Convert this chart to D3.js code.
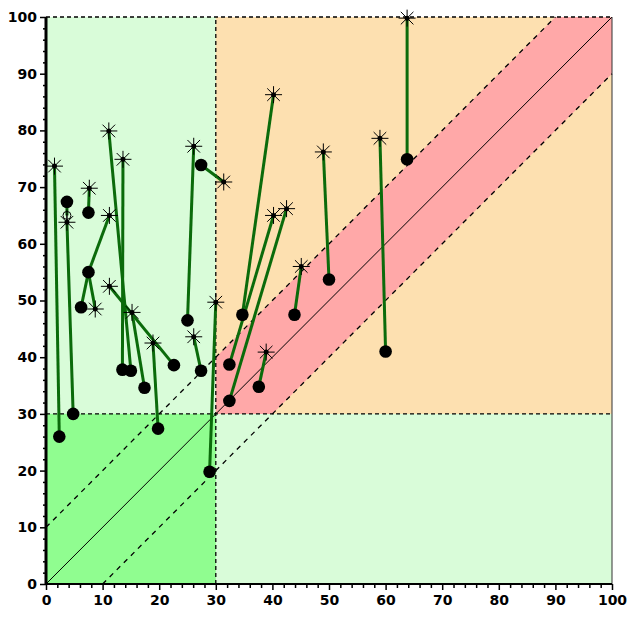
<!DOCTYPE html>
<html>
<head>
<meta charset="utf-8">
<script src="https://cdn.jsdelivr.net/npm/d3@7"></script>
<style>
  html, body { margin: 0; padding: 0; background: #ffffff; }
  svg { display: block; }
  .tick text { font-family: "DejaVu Sans", Verdana, sans-serif; font-weight: bold; font-size: 14px; fill: #000; }
</style>
</head>
<body>
<div id="chart"></div>
<script>
// ---------------- data ----------------
// segments: start (asterisk end) -> end (filled dot end)
const segStartX = [1.5, 3.7, 7.65, 11.1, 13.6, 11.2, 8.7, 6.2, 11.2, 15.2, 18.9, 26.1, 31.4, 26.1, 30.0, 40.2, 40.2, 42.5, 45.1, 38.9, 49.0, 59.0, 63.8, 3.7];
const segStartY = [73.7, 63.8, 69.8, 79.9, 74.9, 65.0, 48.5, 48.8, 52.5, 47.9, 42.5, 77.2, 70.9, 43.6, 49.7, 86.3, 65.0, 66.2, 56.0, 40.9, 76.2, 78.6, 99.8, 65.0];
const segEndX   = [2.35, 4.8, 7.5, 15.0, 13.5, 7.5, 7.5, 7.5, 22.6, 17.4, 19.8, 25.0, 27.4, 27.4, 28.9, 34.7, 32.4, 32.4, 43.9, 37.6, 50.0, 60.0, 63.8, 3.7];
const segEndY   = [26.0, 30.0, 65.5, 37.6, 37.8, 55.0, 55.0, 55.0, 38.6, 34.6, 27.4, 46.5, 73.9, 37.6, 19.8, 47.5, 38.7, 32.3, 47.5, 34.8, 53.7, 41.0, 74.9, 67.4];

// asterisk markers
const starX = [1.5, 3.7, 7.65, 11.1, 13.6, 11.2, 8.7, 11.2, 15.2, 18.9, 26.1, 31.4, 26.1, 30.0, 40.2, 40.2, 42.5, 45.1, 38.9, 49.0, 59.0, 63.8];
const starY = [73.7, 63.8, 69.8, 79.9, 74.9, 65.0, 48.5, 52.5, 47.9, 42.5, 77.2, 70.9, 43.6, 49.7, 86.3, 65.0, 66.2, 56.0, 40.9, 76.2, 78.6, 99.8];

// filled dot markers
const dotX = [2.35, 4.8, 7.5, 15.0, 13.5, 7.5, 6.2, 22.6, 17.4, 19.8, 25.0, 27.4, 27.4, 28.9, 34.7, 32.4, 32.4, 43.9, 37.6, 50.0, 60.0, 63.8, 3.7];
const dotY = [26.0, 30.0, 65.5, 37.6, 37.8, 55.0, 48.8, 38.6, 34.6, 27.4, 46.5, 73.9, 37.6, 19.8, 47.5, 38.7, 32.3, 47.5, 34.8, 53.7, 41.0, 74.9, 67.4];

// open circle marker
const openX = [3.7];
const openY = [65.0];

const tickLabels = [0, 10, 20, 30, 40, 50, 60, 70, 80, 90, 100];
const minorTicks = d3.range(0, 101, 2).filter(v => v % 10 !== 0);
const threshold = 30;   // region boundary
const band = 10;        // +/- band around identity

// ---------------- chart ----------------
const W = 627, H = 619;
const svg = d3.select("#chart").append("svg").attr("width", W).attr("height", H);

const x = d3.scaleLinear().domain([0, 100]).range([46, 612]);
const y = d3.scaleLinear().domain([0, 100]).range([584, 17]);

const bg = svg.append("g");
bg.append("rect").attr("x", x(0)).attr("y", y(100)).attr("width", x(100) - x(0)).attr("height", y(0) - y(100)).attr("fill", "#d9fcd9");
bg.append("rect").attr("x", x(threshold)).attr("y", y(100)).attr("width", x(100) - x(threshold)).attr("height", y(threshold) - y(100)).attr("fill", "#fde0b0");
bg.append("rect").attr("x", x(0)).attr("y", y(threshold)).attr("width", x(threshold) - x(0)).attr("height", y(0) - y(threshold)).attr("fill", "#90fd90");
const bandPoly = [[threshold, threshold], [threshold, threshold + band], [100 - band, 100], [100, 100], [100, 100 - band], [threshold + band, threshold]];
bg.append("path").attr("d", d3.line().x(d => x(d[0])).y(d => y(d[1]))(bandPoly) + "Z").attr("fill", "#ffa8a8");

// reference lines
const ref = svg.append("g").attr("fill", "none").attr("stroke", "#000");
ref.append("line").attr("x1", x(0)).attr("y1", y(0)).attr("x2", x(100)).attr("y2", y(100)).attr("stroke-width", 1);
ref.append("line").attr("x1", x(0)).attr("y1", y(band)).attr("x2", x(100 - band)).attr("y2", y(100)).attr("stroke-width", 1.3).attr("stroke-dasharray", "5,5");
ref.append("line").attr("x1", x(band)).attr("y1", y(0)).attr("x2", x(100)).attr("y2", y(100 - band)).attr("stroke-width", 1.3).attr("stroke-dasharray", "5,5");
ref.append("line").attr("x1", x(threshold)).attr("y1", y(0)).attr("x2", x(threshold)).attr("y2", y(100)).attr("stroke-width", 1.3).attr("stroke-dasharray", "4,3");
ref.append("line").attr("x1", x(0)).attr("y1", y(threshold)).attr("x2", x(100)).attr("y2", y(threshold)).attr("stroke-width", 1.3).attr("stroke-dasharray", "4,3");
ref.append("line").attr("x1", x(0)).attr("y1", y(100)).attr("x2", x(100)).attr("y2", y(100)).attr("stroke-width", 1.3).attr("stroke-dasharray", "4,3");
ref.append("line").attr("x1", x(100)).attr("y1", y(0)).attr("x2", x(100)).attr("y2", y(100)).attr("stroke-width", 1).attr("stroke", "#333");

// segments
const segs = segStartX.map((v, i) => ({x1: v, y1: segStartY[i], x2: segEndX[i], y2: segEndY[i]}));
svg.append("g").selectAll("line").data(segs).join("line")
  .attr("x1", d => x(d.x1)).attr("y1", d => y(d.y1))
  .attr("x2", d => x(d.x2)).attr("y2", d => y(d.y2))
  .attr("stroke", "#0b6b0b").attr("stroke-width", 3).attr("stroke-linecap", "butt");

// dots
svg.append("g").selectAll("circle").data(dotX.map((v, i) => [v, dotY[i]])).join("circle")
  .attr("cx", d => x(d[0])).attr("cy", d => y(d[1])).attr("r", 6.3).attr("fill", "#000");

// open marker
const og = svg.append("g").selectAll("g").data(openX.map((v, i) => [v, openY[i]])).join("g")
  .attr("transform", d => `translate(${x(d[0])},${y(d[1])})`);
og.append("circle").attr("r", 4).attr("fill", "none").attr("stroke", "#000").attr("stroke-width", 1);
og.append("line").attr("x1", 0).attr("y1", -6).attr("x2", 0).attr("y2", 6).attr("stroke", "#000").attr("stroke-width", 1);

// asterisks
const R = 8.5, Rd = 6.3;
const starPath = `M${-R},0L${R},0M0,${-R}L0,${R}M${-Rd},${-Rd}L${Rd},${Rd}M${-Rd},${Rd}L${Rd},${-Rd}`;
const sg = svg.append("g").selectAll("g").data(starX.map((v, i) => [v, starY[i]])).join("g")
  .attr("transform", d => `translate(${x(d[0])},${y(d[1])})`);
sg.append("path").attr("d", starPath).attr("stroke", "#000").attr("stroke-width", 1).attr("fill", "none");
sg.append("circle").attr("r", 2.5).attr("fill", "#000");

// axes
const yAxis = svg.append("g").attr("transform", `translate(${x(0)},0)`)
  .call(d3.axisLeft(y).tickValues(tickLabels).tickSize(6).tickPadding(3).tickFormat(d3.format("d")));
yAxis.select(".domain").attr("stroke-width", 3).attr("d", `M0,${y(0)}V${y(100)}`);
yAxis.selectAll(".tick line").attr("stroke-width", 1.5);
svg.append("g").attr("transform", `translate(${x(0)},0)`)
  .call(d3.axisLeft(y).tickValues(minorTicks).tickSize(3).tickFormat(""))
  .call(g => g.select(".domain").remove())
  .selectAll(".tick line").attr("stroke-width", 1.5);

const xAxis = svg.append("g").attr("transform", `translate(0,${y(0)})`)
  .call(d3.axisBottom(x).tickValues(tickLabels).tickSize(6).tickPadding(5).tickFormat(d3.format("d")));
xAxis.select(".domain").attr("stroke-width", 2).attr("d", `M${x(0)},0H${x(100)}`);
xAxis.selectAll(".tick line").attr("stroke-width", 1.5);
svg.append("g").attr("transform", `translate(0,${y(0)})`)
  .call(d3.axisBottom(x).tickValues(minorTicks).tickSize(4).tickFormat(""))
  .call(g => g.select(".domain").remove())
  .selectAll(".tick line").attr("stroke-width", 1.5);
</script>
</body>
</html>
